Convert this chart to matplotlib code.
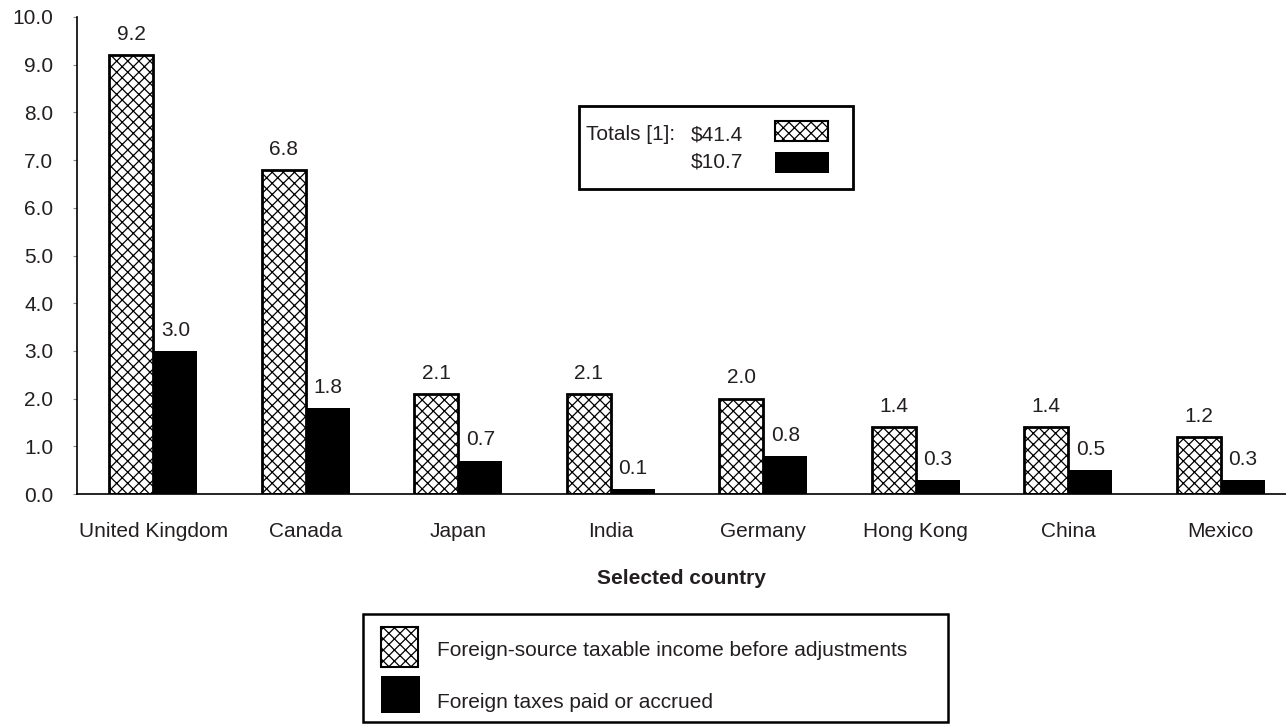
import matplotlib
matplotlib.use("Agg")
import matplotlib.pyplot as plt
from matplotlib.patches import Rectangle
import numpy as np

plt.rcParams['font.family'] = ['Liberation Sans', 'DejaVu Sans']
plt.rcParams['hatch.linewidth'] = 0.9
plt.rcParams['hatch.color'] = 'black'

countries = ["United Kingdom", "Canada", "Japan", "India", "Germany",
             "Hong Kong", "China", "Mexico"]
income = [9.2, 6.8, 2.1, 2.1, 2.0, 1.4, 1.4, 1.2]
taxes = [3.0, 1.8, 0.7, 0.1, 0.8, 0.3, 0.5, 0.3]
series_names = ["Foreign-source taxable income before adjustments",
                "Foreign taxes paid or accrued"]
totals = ["$41.4", "$10.7"]

txt = '#231f20'
fs = 15
W, H = 1286, 724
fig = plt.figure(figsize=(W / 100, H / 100), dpi=100)
ax = fig.add_axes([77 / W, 1 - 494 / H, (W - 77) / W, (494 - 17) / H])

x = np.arange(len(countries))
bw = 0.29
b1 = ax.bar(x - bw / 2, income, bw, facecolor='white', edgecolor='black',
            hatch='xxx', linewidth=2)
b2 = ax.bar(x + bw / 2, taxes, bw, color='black', linewidth=0)

# value labels above each bar
for bars, vals in [(b1, income), (b2, taxes)]:
    for rect, v in zip(bars, vals):
        ax.annotate(f"{v:.1f}", (rect.get_x() + rect.get_width() / 2, v),
                    xytext=(0, 8), textcoords='offset points', ha='center',
                    va='bottom', fontsize=fs, color=txt)

ax.set_xlim(-0.5, -0.5 + (W - 77) / 152.5)
ax.set_ylim(0, 10)
ax.set_yticks(np.arange(0, 10.01, 1.0))
ax.set_yticklabels([f"{v:.1f}" for v in np.arange(0, 10.01, 1.0)])
ax.set_xticks(x)
ax.set_xticklabels(countries)
ax.tick_params(axis='x', length=0, pad=20, labelsize=fs, labelcolor=txt)
ax.tick_params(axis='y', length=3, pad=14, labelsize=fs, labelcolor=txt,
               color='#888888')
for s in ['top', 'right']:
    ax.spines[s].set_visible(False)
for s in ['left', 'bottom']:
    ax.spines[s].set_linewidth(1.2)
ax.set_xlabel("Selected country", fontsize=fs, fontweight='bold',
              color=txt, labelpad=20)


def fx(px):
    return px / W


def fy(py):
    return 1 - py / H


def box(x0, y0, x1, y1, **kw):
    fig.add_artist(Rectangle((fx(x0), fy(y1)), fx(x1) - fx(x0), fy(y0) - fy(y1),
                             transform=fig.transFigure, **kw))


# totals box
box(579, 106, 853, 189, facecolor='white', edgecolor='black', linewidth=2)
fig.text(fx(586), fy(135), "Totals [1]:", fontsize=fs, color=txt, va='center')
fig.text(fx(743), fy(135), totals[0], fontsize=fs, color=txt, va='center', ha='right')
fig.text(fx(743), fy(162), totals[1], fontsize=fs, color=txt, va='center', ha='right')
box(775, 121, 828, 141, facecolor='white', edgecolor='black', hatch='xxx', linewidth=1.5)
box(775, 152, 829, 173, facecolor='black', edgecolor='black', linewidth=0)

# bottom legend
box(363, 614, 948, 722, facecolor='white', edgecolor='black', linewidth=1.8)
box(381, 627, 418, 667, facecolor='white', edgecolor='black', hatch='xxx', linewidth=1.5)
box(381, 676, 420, 713, facecolor='black', edgecolor='black', linewidth=0)
fig.text(fx(437), fy(650), series_names[0], fontsize=fs, color=txt, va='center')
fig.text(fx(437), fy(702), series_names[1], fontsize=fs, color=txt, va='center')

fig.savefig("out.png", dpi=100)
